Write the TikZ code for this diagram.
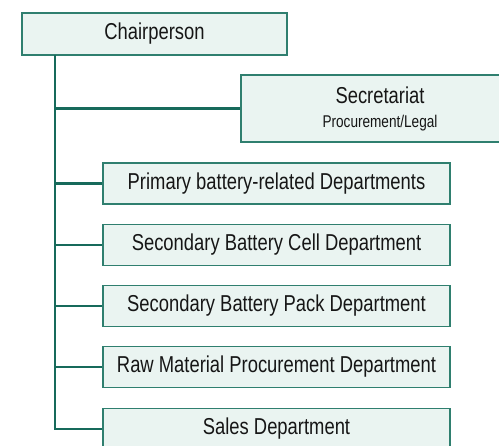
\documentclass[tikz,border=0pt]{standalone}
\usepackage{fontspec}
\setmainfont{Liberation Sans}[FakeStretch=0.8]
\usepackage{tikz}
\usetikzlibrary{positioning}
\definecolor{boxfill}{HTML}{EAF4F1}
\definecolor{boxedge}{HTML}{2F7F6F}
\definecolor{linkgreen}{HTML}{176A5B}
\definecolor{inktext}{HTML}{161616}
\tikzset{
	orgbox/.style={draw=boxedge, fill=boxfill, line width=1.2pt, inner sep=0pt, text=inktext, font=\fontsize{23}{27}\selectfont},
	link/.style={draw=linkgreen, line width=2.8pt}
}
\begin{document}
\begin{tikzpicture}[x=1pt,y=-1pt]
		%\draw[help lines] (0,0) grid (499,446);
		\useasboundingbox (0,0) rectangle (499,446);
		\node[orgbox, minimum width=265pt, minimum height=42pt] (chair) at (154.5,34) {Chairperson};
		\node[orgbox, minimum width=278pt, minimum height=67pt, align=center] (secr) at (380,108.5) {Secretariat\\[-3pt]{\fontsize{17}{20}\selectfont Procurement/Legal}};
		\foreach \y/\name/\txt in {183.5/prim/Primary battery-related Departments, 245/cell/Secondary Battery Cell Department, 306/pack/Secondary Battery Pack Department, 367/raw/Raw Material Procurement Department, 429/sales/Sales Department} {
			\node[orgbox, minimum width=347pt, minimum height=41pt] (\name) at (276.5,\y) {\txt};
		}
		\coordinate (spine) at (55,55);
		\draw[link] (spine) |- (sales.west);
		\foreach \n in {secr,prim,cell,pack,raw} {
			\draw[link] (spine |- \n.west) -- (\n.west);
		}
\end{tikzpicture}
\end{document}
